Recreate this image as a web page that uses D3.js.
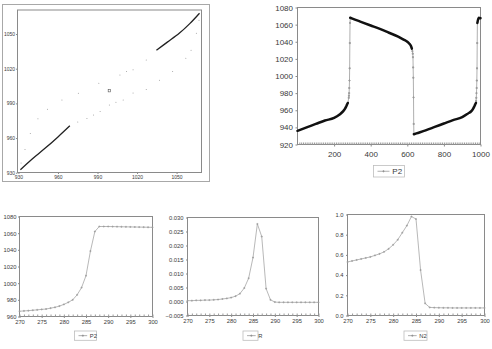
<!DOCTYPE html>
<meta charset="utf-8">
<style>
body { margin: 0; background: #fff; }
svg text { font-family: "Liberation Sans", Arial, sans-serif; fill: #3a3a3a; }
</style>
<body>
<script src="https://d3js.org/d3.v7.min.js"></script>
<script>

// ---- top left: phase portrait of P2 ----
var phaseLowX  = [931.5, 940, 950.4, 960, 969];
var phaseLowY  = [932.6, 941.5, 951.3, 961, 970.6];
var phaseHighX = [1034.7, 1043, 1052, 1060, 1067.4];
var phaseHighY = [1036, 1043, 1050.6, 1059, 1068];
var branchDownX = [975, 982, 987, 992, 999, 1004, 1009.5, 1017, 1027, 1037, 1047, 1057, 1061, 1065, 1067];
var branchDownY = [974, 977, 980, 983, 988.7, 991, 993, 999, 1002, 1010, 1017.5, 1029, 1036, 1050.6, 1062];
var branchUpX = [1027, 1017, 1012, 1007, 991, 975.5, 963, 952, 944.8, 939, 935, 932];
var branchUpY = [1027.6, 1019, 1017.5, 1014.6, 1007.5, 998.8, 993, 985, 976.6, 964, 950, 938.4];
var fixedX = [999], fixedY = [1001];
var phaseTicks = [930, 960, 990, 1020, 1050];

// ---- top right: P2 over 1000 steps ----
var stepT = [0, 50, 100, 150, 200, 230, 250, 260, 265, 270, 275, 280, 281, 282, 283, 284, 285, 286, 287, 288,
             300, 350, 400, 450, 500, 550, 580, 600, 610, 620, 625, 628, 630, 631, 632, 633, 634, 635, 636,
             650, 700, 750, 800, 850, 900, 930, 950, 960, 965, 970, 975, 976, 977, 978, 979, 980, 981, 982, 983,
             990, 1000];
var stepP2 = [936, 940, 944, 948, 951, 955, 959, 962, 964, 966.3, 968.5, 974.5, 977, 980, 986, 994.7, 1009, 1038.5, 1062, 1068,
              1067, 1063, 1059, 1055, 1050.5, 1046, 1042.5, 1040, 1038, 1035, 1032, 1029, 1026, 1022, 1010, 998, 975, 944, 932,
              933, 936.5, 940.5, 944.5, 948.5, 952, 956, 959, 962, 964, 966.3, 968.5, 971, 974.5, 980, 986, 994.7, 1009, 1038.5, 1062,
              1068, 1067.5];
var longYTicks = [920, 940, 960, 980, 1000, 1020, 1040, 1060, 1080];
var longXTicks = [200, 400, 600, 800, 1000];

// ---- bottom: steps 270..300 ----
var zoomT = [270, 271, 272, 273, 274, 275, 276, 277, 278, 279, 280, 281, 282, 283, 284, 285,
             286, 287, 288, 289, 290, 291, 292, 293, 294, 295, 296, 297, 298, 299, 300];
var zoomP2 = [966.3, 966.7, 967, 967.5, 968, 968.5, 969, 970, 971, 972.5, 974.5, 977, 980, 986, 994.7, 1009,
              1038.5, 1062, 1068, 1068, 1068, 1067.9, 1067.8, 1067.7, 1067.6, 1067.5, 1067.4, 1067.3, 1067.2, 1067.1, 1067];
var zoomR = [0.0003, 0.0003, 0.0004, 0.0004, 0.0005, 0.0005, 0.0006, 0.0007, 0.0009, 0.0011, 0.0014, 0.0019, 0.0028, 0.0048, 0.0083, 0.0157,
             0.0277, 0.0232, 0.0046, 0.0006, -0.0002, -0.0003, -0.0003, -0.0003, -0.0003, -0.0003, -0.0003, -0.0003, -0.0003, -0.0003, -0.0003];
var zoomN2 = [0.53, 0.54, 0.55, 0.56, 0.57, 0.58, 0.595, 0.61, 0.63, 0.66, 0.70, 0.75, 0.82, 0.89, 0.98, 0.955,
              0.45, 0.12, 0.08, 0.078, 0.077, 0.076, 0.076, 0.075, 0.075, 0.075, 0.075, 0.075, 0.075, 0.075, 0.075];
var zoomXTicks = [270, 275, 280, 285, 290, 295, 300];
var p2YTicks = [960, 980, 1000, 1020, 1040, 1060, 1080];
var rYTicks = [-0.005, 0, 0.005, 0.010, 0.015, 0.020, 0.025, 0.030];
var n2YTicks = [0, 0.2, 0.4, 0.6, 0.8, 1.0];

var width = 492, height = 349;

var svg = d3.select("body").append("svg")
    .attr("width", width)
    .attr("height", height);

svg.append("rect").attr("width", width).attr("height", height).attr("fill", "#fff");

function frame(x, y) {
  svg.append("rect")
      .attr("x", x.range()[0]).attr("y", y.range()[1])
      .attr("width", x.range()[1] - x.range()[0])
      .attr("height", y.range()[0] - y.range()[1])
      .attr("fill", "none")
      .attr("stroke", "#8a8a8a")
      .attr("stroke-width", 1);
}

function axes(x, y, o) {
  var gx = svg.append("g")
      .attr("transform", "translate(0," + y.range()[0] + ")")
      .call(d3.axisBottom(x).tickValues(o.xTicks).tickSize(o.tick).tickPadding(o.xPad).tickFormat(o.xFmt || d3.format("d")));
  var gy = svg.append("g")
      .attr("transform", "translate(" + x.range()[0] + ",0)")
      .call(d3.axisLeft(y).tickValues(o.yTicks).tickSize(o.tick).tickPadding(o.yPad).tickFormat(o.yFmt || d3.format("d")));
  [gx, gy].forEach(function(g) {
    g.select(".domain").remove();
    g.selectAll("line").attr("stroke", "#8a8a8a");
    g.selectAll("text").attr("font-size", o.font).attr("fill", "#3a3a3a")
        .attr("font-family", "'Liberation Sans', Arial, sans-serif");
  });
  if (o.minor) {
    svg.append("g")
        .attr("transform", "translate(0," + y.range()[0] + ")")
        .call(d3.axisBottom(x).tickValues(o.minor).tickSize(-2).tickFormat(""))
        .call(function(g) { g.select(".domain").remove(); g.selectAll("line").attr("stroke", "#9a9a9a"); });
  }
}

function cross(g, px, py, s, color) {
  g.append("path")
      .attr("d", "M" + (px - s) + "," + py + "H" + (px + s) + "M" + px + "," + (py - s) + "V" + (py + s))
      .attr("stroke", color).attr("stroke-width", 0.7).attr("fill", "none");
}

function legend(x0, y0, w, label, font) {
  svg.append("rect").attr("x", x0).attr("y", y0).attr("width", w).attr("height", font + 3.5)
      .attr("fill", "#fff").attr("stroke", "#bdbdbd").attr("stroke-width", 0.8);
  var cy = y0 + (font + 3.5) / 2;
  svg.append("line").attr("x1", x0 + 4).attr("x2", x0 + 4 + font * 1.5).attr("y1", cy).attr("y2", cy)
      .attr("stroke", "#9a9a9a").attr("stroke-width", 0.8);
  cross(svg, x0 + 4 + font * 0.75, cy, 1.1, "#8a8a8a");
  svg.append("text").attr("x", x0 + 6 + font * 1.6).attr("y", cy + font * 0.36)
      .attr("font-size", font).text(label);
}

// ===== top left =====
(function() {
  svg.append("rect").attr("x", 2.5).attr("y", 4.5).attr("width", 207).attr("height", 177)
      .attr("fill", "none").attr("stroke", "#a8a8a8").attr("stroke-width", 1);
  var x = d3.scaleLinear().domain([929.3, 1068.9]).range([17.5, 201.5]);
  var y = d3.scaleLinear().domain([930.2, 1070.8]).range([172.5, 10]);
  frame(x, y);
  axes(x, y, { xTicks: phaseTicks, yTicks: phaseTicks, tick: 1.5, xPad: 1.5, yPad: 1, font: 5 });

  var line = d3.line().x(function(d) { return x(d[0]); }).y(function(d) { return y(d[1]); }).curve(d3.curveCatmullRom);
  [[phaseLowX, phaseLowY], [phaseHighX, phaseHighY]].forEach(function(p) {
    svg.append("path").datum(d3.zip(p[0], p[1])).attr("d", line)
        .attr("fill", "none").attr("stroke", "#222").attr("stroke-width", 1.3);
  });
  [[branchDownX, branchDownY], [branchUpX, branchUpY]].forEach(function(p) {
    svg.selectAll(null).data(d3.zip(p[0], p[1])).enter().append("circle")
        .attr("cx", function(d) { return x(d[0]); })
        .attr("cy", function(d) { return y(d[1]); })
        .attr("r", 0.5).attr("fill", "#999");
  });
  svg.selectAll(null).data(d3.zip(fixedX, fixedY)).enter().append("rect")
      .attr("x", function(d) { return x(d[0]) - 1.2; })
      .attr("y", function(d) { return y(d[1]) - 1.2; })
      .attr("width", 2.4).attr("height", 2.4)
      .attr("fill", "none").attr("stroke", "#555").attr("stroke-width", 0.6);
})();

// ===== top right =====
(function() {
  var x = d3.scaleLinear().domain([0, 1000]).range([297.5, 480.5]);
  var y = d3.scaleLinear().domain([920, 1080]).range([144.5, 7.5]);
  frame(x, y);
  axes(x, y, { xTicks: longXTicks, yTicks: longYTicks, tick: 2, xPad: 5, yPad: 2.5, font: 8,
               minor: d3.range(10, 1000, 10) });

  var pts = d3.zip(stepT, stepP2);
  var line = d3.line().x(function(d) { return x(d[0]); }).y(function(d) { return y(d[1]); });
  svg.append("path").datum(pts).attr("d", line)
      .attr("fill", "none").attr("stroke", "#9a9a9a").attr("stroke-width", 0.8);

  // slow stretches: markers sit so close together they read as a heavy line
  var runs = [], cur = [];
  for (var i = 0; i < pts.length - 1; i++) {
    var rate = Math.abs(pts[i + 1][1] - pts[i][1]) / (pts[i + 1][0] - pts[i][0]);
    if (rate < 1) {
      if (!cur.length) cur.push(pts[i]);
      cur.push(pts[i + 1]);
    } else {
      if (cur.length) runs.push(cur);
      cur = [];
      cross(svg, x(pts[i][0]), y(pts[i][1]), 1, "#9a9a9a");
      cross(svg, x(pts[i + 1][0]), y(pts[i + 1][1]), 1, "#9a9a9a");
    }
  }
  if (cur.length) runs.push(cur);
  runs.forEach(function(r) {
    svg.append("path").datum(r).attr("d", line.curve(d3.curveMonotoneX))
        .attr("fill", "none").attr("stroke", "#111").attr("stroke-width", 2.5)
        .attr("stroke-linecap", "round");
  });

  legend(373.5, 165.5, 31, "P2", 8);
})();

// ===== bottom panels =====
function zoomPanel(values, left, right, top, bottom, yDom, yTicks, yFmt, yPad, label, legX, legW) {
  var x = d3.scaleLinear().domain([270, 300]).range([left, right]);
  var y = d3.scaleLinear().domain(yDom).range([bottom, top]);
  frame(x, y);
  axes(x, y, { xTicks: zoomXTicks, yTicks: yTicks, tick: 1.5, xPad: 2, yPad: yPad, font: 5.8, yFmt: yFmt,
               minor: zoomT });
  var line = d3.line().x(function(d) { return x(d[0]); }).y(function(d) { return y(d[1]); });
  var pts = d3.zip(zoomT, values);
  svg.append("path").datum(pts).attr("d", line)
      .attr("fill", "none").attr("stroke", "#a6a6a6").attr("stroke-width", 0.8);
  pts.forEach(function(d) { cross(svg, x(d[0]), y(d[1]), 1, "#9a9a9a"); });
  legend(legX, 331, legW, label, 5.8);
}

zoomPanel(zoomP2, 19.5, 152.5, 216.5, 316.5, [960, 1080], p2YTicks, d3.format("d"), 1.5, "P2", 74.5, 22);
zoomPanel(zoomR, 187.5, 318.5, 217.5, 315.5, [-0.005, 0.030], rYTicks, d3.format(".3f"), 2.5, "R", 243, 15);
zoomPanel(zoomN2, 347.5, 484.5, 214.5, 315.5, [0, 1], n2YTicks, d3.format(".1f"), 2.5, "N2", 404, 23);

</script>
